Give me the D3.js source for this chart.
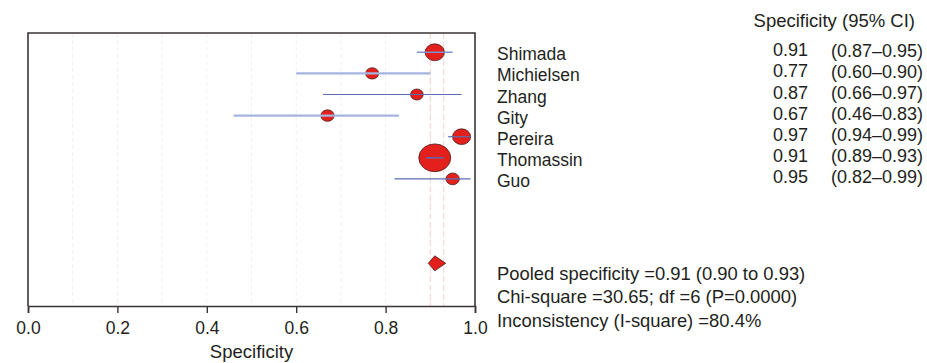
<!DOCTYPE html>
<html>
<head>
<meta charset="utf-8">
<script src="https://cdn.jsdelivr.net/npm/d3@7"></script>
<style>
  body { margin: 0; background: #fff; }
  svg text { font-family: "Liberation Sans", Arial, sans-serif; fill: #231f20; }
</style>
</head>
<body>
<div id="chart"></div>
<script>
// 研究数据
const studies = ['Shimada', 'Michielsen', 'Zhang', 'Gity', 'Pereira', 'Thomassin', 'Guo'];
const spec = [0.91, 0.77, 0.87, 0.67, 0.97, 0.91, 0.95];
const lower = [0.87, 0.60, 0.66, 0.46, 0.94, 0.89, 0.82];
const upper = [0.95, 0.90, 0.97, 0.83, 0.99, 0.93, 0.99];
const weights = [15.6, 7.0, 6.6, 7.3, 13.5, 42.5, 7.5];
const pooled = [0.91, 0.90, 0.93];
const xTicks = [0, 0.2, 0.4, 0.6, 0.8, 1.0];
const gridTicks = [0.1, 0.2, 0.3, 0.4, 0.5, 0.6, 0.7, 0.8, 0.9];
const statLines = [
  'Pooled specificity =0.91 (0.90 to 0.93)',
  'Chi-square =30.65; df =6 (P=0.0000)',
  'Inconsistency (I-square) =80.4%'
];
// CI 线样式
const ciColor = ['#7d93d0', '#a4b3e0', '#5a6cb3', '#a4b3e0', '#5a6cb3', '#5a6cb3', '#5a6cb3'];
const ciWidth = [1.5, 2.2, 1.2, 2.2, 1.2, 1.5, 1.2];

const width = 927, height = 363;
const mLeft = 28, mRight = 475, mTop = 33, mBottom = 306;

const svg = d3.select('#chart').append('svg').attr('width', width).attr('height', height);

const x = d3.scaleLinear().domain([0, 1]).range([mLeft, mRight]);
const y = d3.scaleLinear().domain([0, 10]).range([52.3, 263.3]);
const r = d3.scaleSqrt().domain([0, d3.max(weights)]).range([0, 16]);

// 网格线
svg.append('g').selectAll('line').data(gridTicks).join('line')
  .attr('x1', d => x(d)).attr('x2', d => x(d))
  .attr('y1', mTop).attr('y2', mBottom)
  .attr('stroke', '#f7eded').attr('stroke-width', 1).attr('stroke-dasharray', '4,3');

// pooled CI 线
svg.append('g').selectAll('line').data(pooled.slice(1)).join('line')
  .attr('x1', d => x(d)).attr('x2', d => x(d))
  .attr('y1', mTop).attr('y2', mBottom)
  .attr('stroke', '#f6d3ce').attr('stroke-width', 1).attr('stroke-dasharray', '6,3');

// 置信区间 + 点
const rows = svg.append('g').selectAll('g').data(studies).join('g');
rows.append('ellipse')
  .attr('cx', (d, i) => x(spec[i])).attr('cy', (d, i) => y(i))
  .attr('rx', (d, i) => r(weights[i])).attr('ry', (d, i) => r(weights[i]) * 0.87)
  .attr('fill', '#e3201b').attr('stroke', '#4a2020').attr('stroke-width', 0.8);
rows.append('line')
  .attr('x1', (d, i) => x(lower[i])).attr('x2', (d, i) => x(upper[i]))
  .attr('y1', (d, i) => y(i)).attr('y2', (d, i) => y(i))
  .attr('stroke', (d, i) => ciColor[i]).attr('stroke-width', (d, i) => ciWidth[i]);

// 合并菱形
const py = y(10), ph = 7.5;
svg.append('polygon')
  .attr('points', [[x(pooled[1]) - 2, py], [x(pooled[0]), py - ph], [x(pooled[2]) + 2, py], [x(pooled[0]), py + ph]].map(p => p.join(',')).join(' '))
  .attr('fill', '#e3201b').attr('stroke', '#4a2020').attr('stroke-width', 0.8);

// 边框
svg.append('path')
  .attr('d', `M${mLeft},${mBottom}V${mTop}H${mRight}V${mBottom}`)
  .attr('fill', 'none').attr('stroke', '#3a3535').attr('stroke-width', 1.6);

// x 轴
const axis = svg.append('g').attr('transform', `translate(0,${mBottom})`)
  .call(d3.axisBottom(x).tickValues(xTicks).tickFormat(d3.format('.1f')).tickSize(7).tickPadding(9));
axis.select('.domain').attr('stroke', '#3a3535').attr('stroke-width', 1.6);
axis.selectAll('.tick line').attr('stroke', '#3a3535').attr('stroke-width', 1.4);
axis.selectAll('.tick text').attr('font-size', 17.5).style('font-family', '"Liberation Sans", Arial, sans-serif').attr('fill', '#231f20');

svg.append('text').attr('x', x(0.5)).attr('y', 358).attr('text-anchor', 'middle')
  .attr('font-size', 18.5).text('Specificity');

// 右侧文字
svg.append('text').attr('x', 915).attr('y', 26.5).attr('text-anchor', 'end')
  .attr('font-size', 18.5).text('Specificity (95% CI)');

const txt = svg.append('g').selectAll('g').data(studies).join('g');
txt.append('text').attr('x', 497).attr('y', (d, i) => y(i) + 8).attr('font-size', 17.5).text(d => d);
txt.append('text').attr('x', 808).attr('y', (d, i) => y(i) + 4).attr('text-anchor', 'end')
  .attr('font-size', 18).text((d, i) => spec[i].toFixed(2));
txt.append('text').attr('x', 831).attr('y', (d, i) => y(i) + 4.5)
  .attr('font-size', 18).text((d, i) => `(${lower[i].toFixed(2)}\u2013${upper[i].toFixed(2)})`);

svg.append('g').selectAll('text').data(statLines).join('text')
  .attr('x', 497).attr('y', (d, i) => 280 + i * 23.4)
  .attr('font-size', 18.4).text(d => d);
</script>
</body>
</html>
